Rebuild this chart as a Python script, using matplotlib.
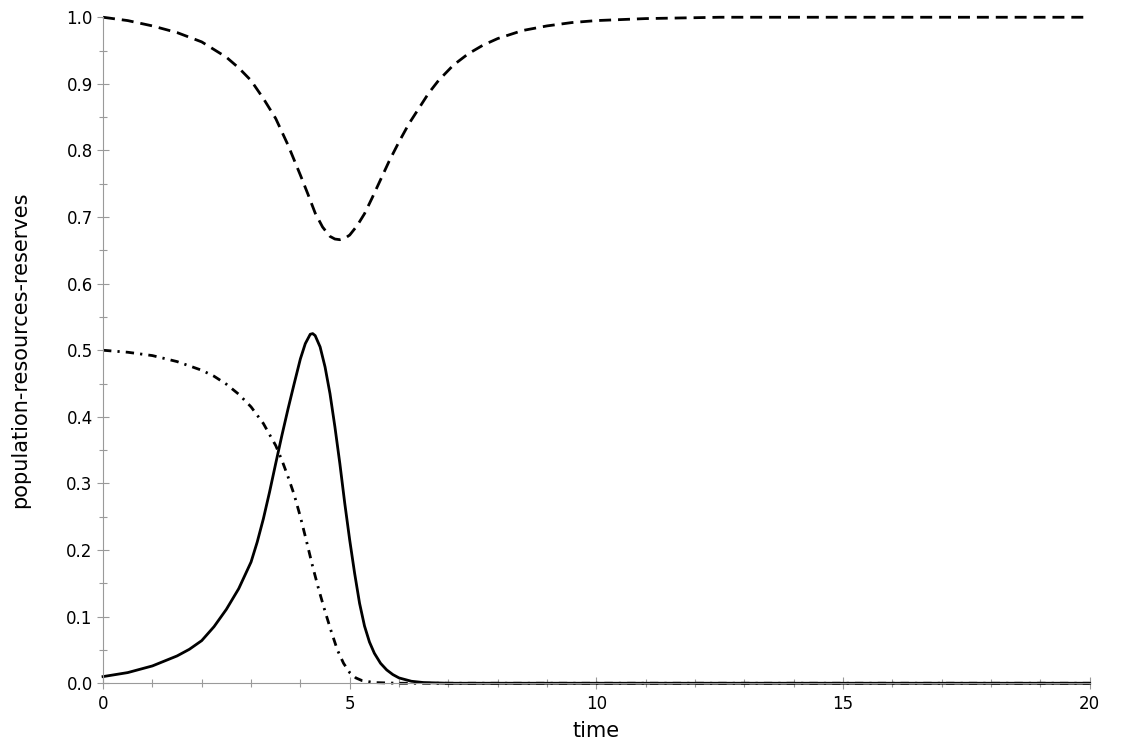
import numpy as np
import matplotlib
matplotlib.use("Agg")
import matplotlib.pyplot as plt
from matplotlib.ticker import MultipleLocator

# values
t_pop = [0, 0.5, 1, 1.5, 1.75, 2, 2.25, 2.5, 2.75, 3, 3.125, 3.25, 3.375, 3.5, 3.625,
         3.75, 3.875, 4, 4.1, 4.2, 4.25, 4.3, 4.4, 4.5, 4.6, 4.7, 4.8, 4.9, 5, 5.1,
         5.2, 5.3, 5.4, 5.5, 5.625, 5.75, 5.875, 6, 6.25, 6.5, 7, 20]
population = [0.01, 0.016, 0.026, 0.041, 0.051, 0.064, 0.085, 0.111, 0.142, 0.182,
              0.212, 0.247, 0.287, 0.33, 0.372, 0.412, 0.45, 0.487, 0.51, 0.524, 0.525,
              0.522, 0.505, 0.475, 0.435, 0.385, 0.33, 0.27, 0.215, 0.165, 0.12,
              0.086, 0.062, 0.045, 0.03, 0.02, 0.013, 0.008, 0.003, 0.001, 0.0, 0.0]

t_res = [0, 0.5, 1, 1.5, 2, 2.5, 2.75, 3, 3.25, 3.5, 3.75, 4, 4.15, 4.3, 4.45, 4.6,
         4.7, 4.8, 4.9, 5.0, 5.15, 5.3, 5.45, 5.6, 5.8, 6, 6.2, 6.4, 6.6, 6.8, 7.1,
         7.4, 7.7, 8, 8.5, 9, 9.5, 10, 11, 12.5, 20]
resources = [1.0, 0.995, 0.987, 0.977, 0.963, 0.94, 0.924, 0.905, 0.878, 0.848,
             0.808, 0.763, 0.735, 0.706, 0.685, 0.671, 0.667, 0.666, 0.668, 0.673,
             0.687, 0.705, 0.728, 0.752, 0.784, 0.813, 0.84, 0.863, 0.886, 0.905,
             0.928, 0.945, 0.958, 0.968, 0.98, 0.987, 0.992, 0.995, 0.998, 1.0, 1.0]

t_rsv = [0, 0.5, 1, 1.5, 2, 2.25, 2.5, 2.75, 3, 3.25, 3.5, 3.625, 3.75, 3.875, 4,
         4.125, 4.25, 4.375, 4.5, 4.625, 4.75, 4.875, 5, 5.125, 5.25, 5.5, 6, 20]
reserves = [0.5, 0.497, 0.492, 0.483, 0.47, 0.461, 0.449, 0.434, 0.415, 0.39, 0.357,
            0.335, 0.31, 0.283, 0.25, 0.213, 0.175, 0.14, 0.108, 0.078, 0.05, 0.03,
            0.016, 0.008, 0.004, 0.001, 0.0, 0.0]

fig = plt.figure(figsize=(11.25, 7.5), dpi=100)
ax = fig.add_axes([0.0916, 0.089, 0.877, 0.888])

lw = 2.0
ax.plot(t_res, resources, color='black', lw=lw, linestyle=(0, (4.3, 2.5)),
        clip_on=False, solid_joinstyle='round')
ax.plot(t_rsv, reserves, color='black', lw=lw, linestyle=(0, (3, 2.2, 0.8, 2.2)),
        clip_on=False)
ax.plot(t_pop, population, color='black', lw=lw, clip_on=False,
        solid_joinstyle='round')

ax.set_xlim(0, 20)
ax.set_ylim(0, 1)

for side in ['top', 'right']:
    ax.spines[side].set_visible(False)
for side in ['left', 'bottom']:
    ax.spines[side].set_color('#9a9a9a')
    ax.spines[side].set_linewidth(0.8)

ax.xaxis.set_major_locator(MultipleLocator(5))
ax.xaxis.set_minor_locator(MultipleLocator(1))
ax.yaxis.set_major_locator(MultipleLocator(0.1))
ax.yaxis.set_minor_locator(MultipleLocator(0.05))
ax.tick_params(which='major', direction='inout', length=9, width=0.8,
               color='#9a9a9a', labelsize=12, labelcolor='black')
ax.tick_params(which='minor', direction='inout', length=6, width=0.8, color='#9a9a9a')
ax.tick_params(axis='x', pad=4)
ax.tick_params(axis='y', pad=3)

ax.set_xlabel('time', fontsize=15, labelpad=6)
ax.set_ylabel('population-resources-reserves', fontsize=15, labelpad=26)

fig.savefig('out.png', dpi=100)
